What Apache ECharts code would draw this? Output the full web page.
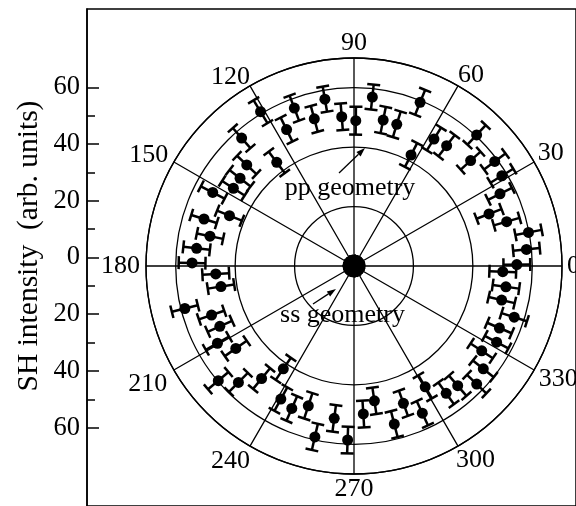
<!DOCTYPE html>
<html>
<head>
<meta charset="utf-8">
<script src="https://cdn.jsdelivr.net/npm/echarts@6/dist/echarts.min.js"></script>
<style>html,body{margin:0;padding:0;background:#fff}#c{width:576px;height:506px}</style>
</head>
<body>
<div id="c"></div>
<script>
// ---- data ----
const angleTicks = [0, 30, 60, 90, 120, 150, 180, 210, 240, 270, 300, 330];
const yTickLabels = [-60, -40, -20, 0, 20, 40, 60];
const yMinorTicks = [-50, -30, -10, 10, 30, 50];
const ppAngle = [0.5, 5.5, 10.9, 16.2, 21.1, 26.3, 31.4, 36.6, 42.1, 46.9, 52.4, 57.8, 62.8, 68.0, 73.2, 78.7, 83.8, 89.3, 94.7, 99.9, 105.1, 110.7, 116.3, 121.2, 126.7, 131.3, 136.7, 142.4, 147.2, 152.5, 158.0, 162.6, 168.3, 173.6, 178.9, 183.3, 188.8, 194.1, 199.0, 204.2, 209.5, 214.9, 220.2, 225.2, 230.6, 235.5, 241.2, 246.4, 251.9, 257.1, 262.6, 267.9, 273.6, 278.6, 284.3, 289.8, 294.9, 300.5, 305.9, 310.9, 316.1, 321.5, 326.4, 331.9, 336.9, 342.3, 347.0, 352.2, 357.8];
const ppValue = [54.8, 58.3, 59.8, 53.5, 48.7, 54.8, 58.3, 59.0, 52.9, 60.4, 51.1, 50.5, 42.0, 59.4, 49.8, 50.1, 57.2, 48.9, 50.4, 57.0, 51.3, 56.8, 51.2, 60.7, 43.5, 57.3, 49.6, 48.4, 48.3, 53.6, 45.2, 52.9, 49.5, 53.3, 54.5, 46.6, 45.3, 58.7, 50.7, 49.5, 52.8, 48.5, 59.8, 55.2, 49.0, 42.0, 51.1, 52.3, 49.5, 59.0, 51.7, 58.6, 49.9, 45.9, 54.9, 49.1, 54.6, 47.2, 52.9, 53.3, 57.3, 55.6, 51.6, 54.4, 53.2, 56.6, 51.0, 51.6, 50.1];
const ppError = [4.5, 4.5, 4.5, 4.5, 4.5, 4.5, 4.5, 4.5, 4.5, 4.5, 4.5, 4.5, 4.5, 4.5, 4.5, 4.5, 4.2, 4.7, 4.5, 4.3, 4.5, 4.5, 4.5, 4.5, 4.5, 4.5, 4.5, 4.5, 4.5, 4.5, 4.5, 4.5, 4.5, 4.5, 4.5, 4.5, 4.5, 4.5, 4.5, 4.5, 4.5, 4.5, 4.5, 4.5, 4.5, 4.5, 4.5, 4.5, 4.5, 4.5, 4.5, 4.5, 4.5, 4.5, 4.5, 4.5, 4.5, 4.5, 4.5, 4.5, 4.5, 4.5, 4.5, 4.5, 4.5, 4.5, 4.5, 4.5, 4.5];
const ssValue = [2.0, 2.2, 1.8, 2.0, 2.1, 1.9, 2.0, 2.2, 1.8, 2.0, 2.1, 1.9, 2.0, 2.2, 1.8, 2.0, 2.1, 1.9, 2.0, 2.2, 1.8, 2.0, 2.1, 1.9, 2.0, 2.2, 1.8, 2.0, 2.1, 1.9, 2.0, 2.2, 1.8, 2.0, 2.1, 1.9, 2.0, 2.2, 1.8, 2.0, 2.1, 1.9, 2.0, 2.2, 1.8, 2.0, 2.1, 1.9, 2.0, 2.2, 1.8, 2.0, 2.1, 1.9, 2.0, 2.2, 1.8, 2.0, 2.1, 1.9, 2.0, 2.2, 1.8, 2.0, 2.1, 1.9, 2.0, 2.2, 1.8];
const ssError = ssValue.map(() => 1.3);

const FONT = 'Liberation Serif, Times New Roman, serif';
const ppData = ppAngle.map((a, i) => [ppValue[i], a, ppError[i]]);
const ssData = ppAngle.map((a, i) => [ssValue[i], a, ssError[i]]);

// per-label padding [top, right, bottom, left] to fine-place angle labels
const labelPad = {
  0: [0, 0, 0, 9], 30: [0, 0, 2, 7], 60: [0, 0, 5, 2], 90: [0, 0, 10, 0],
  120: [0, 2, 3, 0], 150: [0, 9, 0, 0], 180: [1, 10, 0, 0], 210: [7, 10, 0, 0],
  240: [10, 2, 0, 0], 270: [10, 0, 0, 0], 300: [9, 0, 0, 0], 330: [2, 0, 0, 8]
};
const rich = {};
angleTicks.forEach(v => {
  rich['t' + v] = { fontFamily: FONT, fontSize: 26, height: 18, color: '#000', padding: labelPad[v] };
});

function errRender(capHalf, lw) {
  return function (params, api) {
    const r = api.value(0), a = api.value(1), e = api.value(2);
    const p1 = api.coord([Math.max(r - e, 0.01), a]);
    const p2 = api.coord([r + e, a]);
    let ux = p2[0] - p1[0], uy = p2[1] - p1[1];
    const L = Math.hypot(ux, uy) || 1; ux /= L; uy /= L;
    const nx = -uy * capHalf, ny = ux * capHalf;
    const st = { stroke: '#000', lineWidth: lw };
    return {
      type: 'group',
      children: [
        { type: 'line', shape: { x1: p1[0], y1: p1[1], x2: p2[0], y2: p2[1] }, style: st },
        { type: 'line', shape: { x1: p1[0] - nx, y1: p1[1] - ny, x2: p1[0] + nx, y2: p1[1] + ny }, style: st },
        { type: 'line', shape: { x1: p2[0] - nx, y1: p2[1] - ny, x2: p2[0] + nx, y2: p2[1] + ny }, style: st }
      ]
    };
  };
}

function arrow(x1, y1, x2, y2) {
  const dx = x2 - x1, dy = y2 - y1, L = Math.hypot(dx, dy);
  const ux = dx / L, uy = dy / L, hl = 9, hw = 3;
  const bx = x2 - ux * hl, by = y2 - uy * hl;
  return [
    { type: 'line', shape: { x1: x1, y1: y1, x2: bx, y2: by }, style: { stroke: '#000', lineWidth: 1.3 }, z: 20 },
    { type: 'polygon', shape: { points: [[x2, y2], [bx - uy * hw, by + ux * hw], [bx + uy * hw, by - ux * hw]] }, style: { fill: '#000' }, z: 20 }
  ];
}

const chart = echarts.init(document.getElementById('c'), null, { renderer: 'canvas' });
chart.setOption({
  animation: false,
  backgroundColor: '#fff',
  grid: { left: 87, top: 9, width: 620, height: 515.4, show: true, borderColor: '#000', borderWidth: 1.5, backgroundColor: 'transparent' },
  xAxis: { type: 'value', show: false, min: 0, max: 1 },
  yAxis: [{
    type: 'value', min: -87.6, max: 87.6,
    axisLine: { show: true, lineStyle: { color: '#000', width: 1.5 } },
    splitLine: { show: false },
    axisTick: { show: true, inside: true, length: 12, lineStyle: { color: '#000', width: 1.5 }, customValues: yTickLabels },
    axisLabel: { show: true, margin: 7, color: '#000', fontFamily: FONT, fontSize: 26.5, customValues: yTickLabels, formatter: v => String(Math.abs(v)) }
  }, {
    type: 'value', min: -87.6, max: 87.6, position: 'left',
    axisLine: { show: false },
    splitLine: { show: false },
    axisTick: { show: true, inside: true, length: 8, lineStyle: { color: '#000', width: 1.5 }, customValues: yMinorTicks },
    axisLabel: { show: false }
  }],
  polar: { center: [354, 266], radius: 208 },
  radiusAxis: {
    type: 'value', min: 0, max: 70, interval: 20,
    axisLine: { show: false }, axisTick: { show: false }, axisLabel: { show: false },
    splitLine: { show: true, lineStyle: { color: '#000', width: 1.3 } }
  },
  angleAxis: {
    type: 'value', min: 0, max: 360, interval: 30, startAngle: 0, clockwise: false,
    axisLine: { show: true, lineStyle: { color: '#000', width: 1.3 } },
    axisTick: { show: false },
    splitLine: { show: true, lineStyle: { color: '#000', width: 1.3 } },
    axisLabel: { show: true, margin: -4, color: '#000', fontFamily: FONT, fontSize: 26, rich: rich,
      formatter: v => (angleTicks.indexOf(v) >= 0 ? '{t' + v + '|' + v + '}' : '') }
  },
  graphic: [
    { type: 'text', x: 29, y: 246, rotation: Math.PI / 2, style: { text: 'SH intensity  (arb. units)', fontFamily: FONT, fontSize: 29.5, fill: '#000', textAlign: 'center', textVerticalAlign: 'middle' } },
    { type: 'text', x: 350, y: 188, z: 20, style: { text: 'pp geometry', fontFamily: FONT, fontSize: 26, fill: '#000', textAlign: 'center', textVerticalAlign: 'middle' } },
    { type: 'text', x: 342.5, y: 315.5, z: 20, style: { text: 'ss geometry', fontFamily: FONT, fontSize: 26, fill: '#000', textAlign: 'center', textVerticalAlign: 'middle' } }
  ].concat(arrow(339, 173, 365, 148)).concat(arrow(313, 304, 336, 289)),
  series: [
    { type: 'custom', coordinateSystem: 'polar', renderItem: errRender(6.5, 2.5), data: ppData, z: 3, silent: true },
    { type: 'scatter', coordinateSystem: 'polar', data: ppData.map(d => [d[0], d[1]]), symbol: 'circle', symbolSize: 11, itemStyle: { color: '#000', opacity: 1 }, z: 4, silent: true },
    { type: 'custom', coordinateSystem: 'polar', renderItem: errRender(4, 1.5), data: ssData, z: 3, silent: true },
    { type: 'scatter', coordinateSystem: 'polar', data: ssData.map(d => [d[0], d[1]]), symbol: 'circle', symbolSize: 8, itemStyle: { color: '#000', opacity: 1 }, z: 4, silent: true }
  ]
});
</script>
</body>
</html>
